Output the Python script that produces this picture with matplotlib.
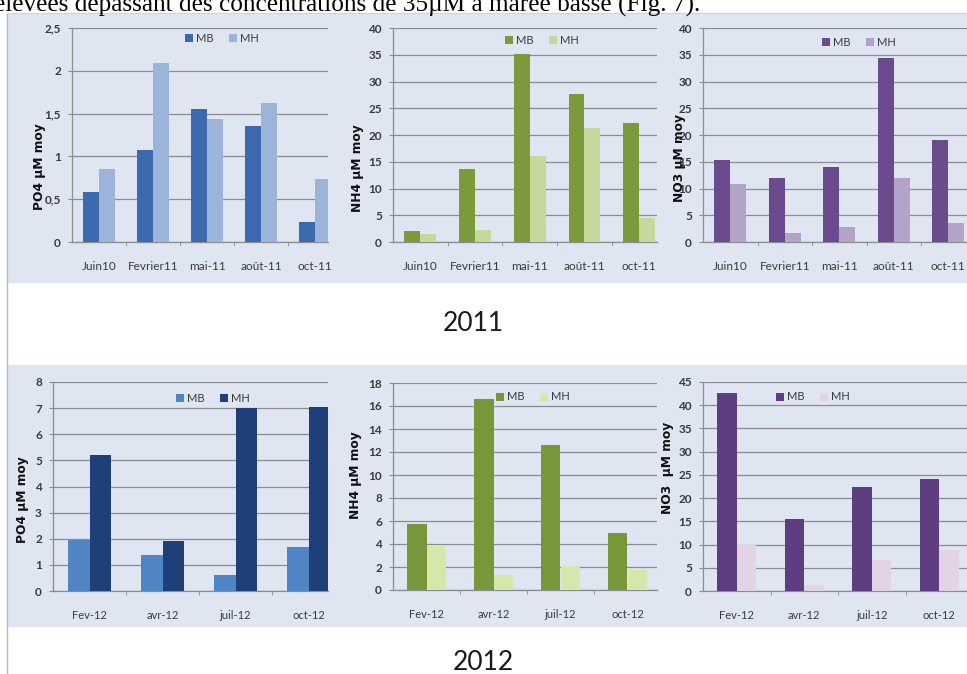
import matplotlib
matplotlib.use("Agg")
import matplotlib.pyplot as plt
from matplotlib.patches import Rectangle
from matplotlib.lines import Line2D

W, H = 967, 674

# ---- data -------------------------------------------------------------
months_2011 = ["Juin10", "Fevrier11", "mai-11", "août-11", "oct-11"]
months_2012 = ["Fev-12", "avr-12", "juil-12", "oct-12"]

po4_mb_2011 = [0.58, 1.08, 1.55, 1.35, 0.23]
po4_mh_2011 = [0.85, 2.09, 1.44, 1.62, 0.74]
nh4_mb_2011 = [2.0, 13.7, 35.2, 27.6, 22.3]
nh4_mh_2011 = [1.5, 2.3, 16.0, 21.3, 4.5]
no3_mb_2011 = [15.3, 11.9, 14.0, 34.3, 19.0]
no3_mh_2011 = [10.9, 1.6, 2.8, 11.9, 3.6]

po4_mb_2012 = [1.95, 1.38, 0.62, 1.70]
po4_mh_2012 = [5.22, 1.92, 7.02, 7.05]
nh4_mb_2012 = [5.7, 16.6, 12.6, 5.0]
nh4_mh_2012 = [3.9, 1.3, 2.1, 1.7]
no3_mb_2012 = [42.7, 15.4, 22.5, 24.1]
no3_mh_2012 = [10.0, 1.2, 6.6, 8.8]

po4_ticks_2011 = ["0", "0,5", "1", "1,5", "2", "2,5"]

TICK_COLOR = "#3a3a3a"
GRID_COLOR = "#8a8c92"
BG = "#dfe6f1"
FONT = "Lato"

fig = plt.figure(figsize=(W / 100, H / 100), dpi=100)
fig.patch.set_facecolor("white")


def px_rect(x, y, w, h):
    return [x / W, 1 - (y + h) / H, w / W, h / H]


# background bands of the two rows of charts (kept under the axes)
for y0, y1 in [(13, 283), (365, 627)]:
    fig.patches.append(Rectangle((7 / W, 1 - y1 / H), (W - 7) / W, (y1 - y0) / H,
                                 transform=fig.transFigure, facecolor=BG,
                                 edgecolor="none", zorder=-2))
fig.add_artist(Line2D([7 / W, 7 / W], [0, 1 - 13 / H], transform=fig.transFigure,
                      color="#b9b9b9", lw=1.0, zorder=-1))
fig.add_artist(Line2D([7 / W, 1], [1 - 13 / H, 1 - 13 / H], transform=fig.transFigure,
                      color="#d0d4da", lw=0.8, zorder=-1))


def panel(x0, x_end, cat_w, top, bottom, cats, mb, mh, c_mb, c_mh,
          ymax, ystep, yticklabels, ylabel, ylab_pos, leg_pos, xfs=8.5):
    ax = fig.add_axes(px_rect(x0, top, x_end - x0, bottom - top))
    ax.set_facecolor("none")
    n = len(cats)
    xs = list(range(n))
    bw = 0.29
    ax.bar([x - bw / 2 for x in xs], mb, width=bw, color=c_mb, label="MB", zorder=3)
    ax.bar([x + bw / 2 for x in xs], mh, width=bw, color=c_mh, label="MH", zorder=3)

    ax.set_xlim(-0.5, -0.5 + (x_end - x0) / cat_w)
    ax.set_ylim(0, ymax)
    yt = [i * ystep for i in range(len(yticklabels))]
    ax.set_yticks(yt)
    ax.set_yticklabels(yticklabels, fontsize=8.5, color=TICK_COLOR, family=FONT,
                       fontweight="bold")
    ax.yaxis.grid(True, color=GRID_COLOR, lw=0.9, zorder=1)
    ax.set_axisbelow(True)

    ax.set_xticks(xs)
    ax.set_xticklabels(cats, fontsize=xfs, color=TICK_COLOR, family=FONT)
    ax.set_xticks([x + 0.5 for x in xs[:-1]], minor=True)
    ax.tick_params(axis="x", which="major", length=0, pad=14)
    ax.tick_params(axis="x", which="minor", length=3, color=GRID_COLOR, direction="out")
    ax.tick_params(axis="y", length=3, color=GRID_COLOR, pad=5)

    for side in ["top", "right"]:
        ax.spines[side].set_visible(False)
    ax.spines["left"].set_color(GRID_COLOR)
    ax.spines["bottom"].set_color(GRID_COLOR)
    ax.spines["left"].set_linewidth(0.9)
    ax.spines["bottom"].set_linewidth(0.9)

    fig.text(ylab_pos[0] / W, 1 - ylab_pos[1] / H, ylabel, rotation=90,
             ha="center", va="center", fontsize=8.8, fontweight="bold",
             family=["DejaVu Sans"], color="#111111")

    ax.legend(loc="center", bbox_to_anchor=(leg_pos[0] / W, 1 - leg_pos[1] / H),
              bbox_transform=fig.transFigure, ncol=2, frameon=False,
              prop={"family": FONT, "size": 8}, handlelength=0.7,
              handleheight=0.7, handletextpad=0.3, columnspacing=1.4,
              labelcolor=TICK_COLOR)
    return ax


# 2011 row
panel(72, 328, 54.0, 28, 242, months_2011, po4_mb_2011, po4_mh_2011,
      "#3d6aae", "#9db4da", 2.5, 0.5, po4_ticks_2011,
      "PO4 µM moy", (40, 167), (222, 38))
panel(393, 657, 54.7, 28, 242, months_2011, nh4_mb_2011, nh4_mh_2011,
      "#7a9a3c", "#c5d99c", 40, 5, [str(v) for v in range(0, 41, 5)],
      "NH4 µM moy", (358, 168), (542, 40))
panel(703, 967, 54.5, 28, 242, months_2011, no3_mb_2011, no3_mh_2011,
      "#6c4a8e", "#b4a3c9", 40, 5, [str(v) for v in range(0, 41, 5)],
      "NO3 µM moy", (680, 158), (859, 42))

# 2012 row
panel(53, 328, 73.0, 382, 591, months_2012, po4_mb_2012, po4_mh_2012,
      "#4f85c5", "#1e3f78", 8, 1, [str(v) for v in range(0, 9)],
      "PO4 µM moy", (23, 500), (213, 398), xfs=8)
panel(393, 657, 67.0, 383, 590, months_2012, nh4_mb_2012, nh4_mh_2012,
      "#77983a", "#d5e8a9", 18, 2, [str(v) for v in range(0, 19, 2)],
      "NH4 µM moy", (355, 475), (533, 397), xfs=8)
panel(703, 967, 67.5, 382, 591, months_2012, no3_mb_2012, no3_mh_2012,
      "#5e3e80", "#e2d3e6", 45, 5, [str(v) for v in range(0, 46, 5)],
      "NO3  µM moy", (668, 468), (813, 397), xfs=8)

# row captions and the running text line above the figure
fig.text(473 / W, 1 - 323 / H, "2011", ha="center", va="center",
         fontsize=19, family=FONT, color="#1a1a1a")
fig.text(483 / W, 1 - 662 / H, "2012", ha="center", va="center",
         fontsize=19, family=FONT, color="#1a1a1a")
fig.text(-6 / W, 1 - 12 / H,
         "élevées dépassant des concentrations de 35µM à marée basse (Fig. 7).",
         ha="left", va="baseline", fontsize=18.2, family="Liberation Serif",
         color="black")

fig.savefig("out.png", dpi=100)
